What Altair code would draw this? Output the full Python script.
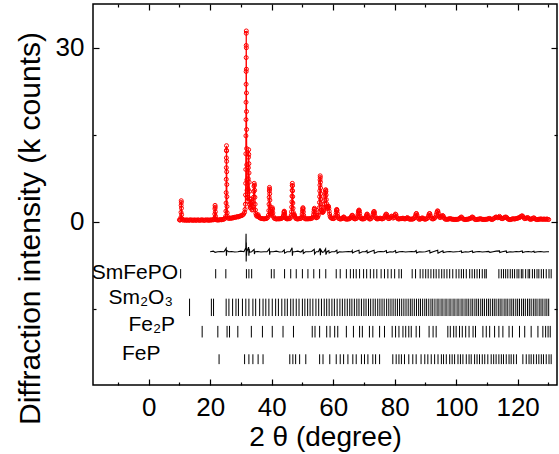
import altair as alt
import pandas as pd

# ---------------- data ----------------
# observed pattern (2theta in degree, intensity in k counts)
obs_points = [
    (10.0,0.3),(10.2,0.25),(10.4,0.35),(10.47,0.7),(10.52,1.6),(10.56,2.8),(10.6,3.6),(10.63,3.3),(10.67,2.3),(10.72,1.2),
    (10.8,0.5),(11.0,0.3),(11.3,0.25),(11.6,0.3),(12.0,0.2),(12.3,0.3),(12.6,0.25),(13.0,0.2),(13.3,0.3),(13.6,0.25),
    (14.0,0.3),(14.3,0.2),(14.6,0.25),(15.0,0.3),(15.3,0.2),(15.6,0.25),(16.0,0.3),(16.3,0.25),(16.6,0.2),(17.0,0.3),
    (17.3,0.25),(17.6,0.3),(18.0,0.2),(18.3,0.25),(18.6,0.3),(19.0,0.25),(19.3,0.3),(19.6,0.2),(20.0,0.3),(20.3,0.25),
    (20.6,0.3),(21.0,0.3),(21.3,0.35),(21.47,0.6),(21.52,1.3),(21.56,2.2),(21.6,2.8),(21.64,2.5),(21.68,1.7),(21.73,0.9),
    (21.8,0.45),(22.0,0.3),(22.3,0.3),(22.6,0.25),(23.0,0.3),(23.3,0.35),(23.6,0.3),(24.0,0.35),(24.3,0.4),(24.6,0.45),
    (24.9,0.6),(25.05,0.9),(25.12,1.8),(25.17,3.2),(25.21,5.0),(25.24,7.3),(25.26,9.3),(25.28,11.0),(25.3,12.3),(25.32,13.1),
    (25.34,12.2),(25.36,10.4),(25.38,8.6),(25.41,6.4),(25.44,4.3),(25.48,2.6),(25.53,1.5),(25.6,0.9),(25.8,0.6),(26.1,0.55),
    (26.4,0.6),(26.7,0.55),(27.0,0.65),(27.3,0.6),(27.6,0.7),(27.9,0.75),(28.2,0.7),(28.5,0.8),(28.8,0.85),(29.1,0.8),
    (29.4,0.9),(29.7,0.95),(30.0,1.0),(30.3,1.05),(30.6,1.15),(30.9,1.3),(31.2,1.6),(31.35,2.1),(31.45,3.0),(31.52,4.6),
    (31.56,6.6),(31.59,9.0),(31.61,11.7),(31.63,14.8),(31.65,17.6),(31.67,20.6),(31.69,23.7),(31.7,25.9),(31.71,28.3),(31.725,30.4),
    (31.74,32.5),(31.75,32.9),(31.765,30.0),(31.78,26.3),(31.8,22.2),(31.82,19.0),(31.84,15.9),(31.87,12.6),(31.9,9.8),(31.94,7.2),
    (31.98,5.4),(32.04,4.2),(32.12,3.6),(32.2,3.5),(32.28,4.2),(32.35,5.6),(32.4,7.4),(32.44,9.3),(32.48,11.1),(32.52,12.4),
    (32.56,11.6),(32.6,10.0),(32.64,8.4),(32.69,6.8),(32.75,5.2),(32.82,3.9),(32.9,2.9),(33.0,2.4),(33.1,2.6),(33.2,3.2),
    (33.28,3.9),(33.36,3.4),(33.45,2.6),(33.6,2.0),(33.75,2.1),(33.9,2.6),(34.0,3.3),(34.1,4.2),(34.18,5.2),(34.26,6.1),
    (34.33,6.6),(34.4,6.3),(34.47,5.4),(34.55,4.2),(34.63,3.0),(34.72,2.0),(34.85,1.4),(35.0,1.1),(35.2,0.9),(35.45,1.0),
    (35.6,1.2),(35.75,0.9),(36.0,0.7),(36.3,0.6),(36.6,0.55),(36.9,0.5),(37.2,0.5),(37.5,0.45),(37.8,0.5),(38.1,0.5),
    (38.4,0.55),(38.7,0.7),(38.95,1.1),(39.08,1.9),(39.15,3.0),(39.2,4.2),(39.25,5.3),(39.29,5.9),(39.33,5.6),(39.37,4.8),
    (39.42,3.7),(39.47,2.6),(39.53,1.8),(39.62,1.3),(39.75,1.1),(39.9,1.3),(40.05,1.7),(40.15,2.2),(40.22,2.4),(40.3,2.1),
    (40.4,1.5),(40.55,0.9),(40.8,0.6),(41.1,0.5),(41.4,0.45),(41.7,0.45),(42.0,0.5),(42.3,0.45),(42.6,0.5),(42.9,0.5),
    (43.2,0.55),(43.5,0.65),(43.75,0.9),(43.9,1.2),(44.0,1.6),(44.08,1.8),(44.15,1.7),(44.25,1.3),(44.37,0.9),(44.55,0.6),
    (44.8,0.5),(45.1,0.45),(45.4,0.5),(45.7,0.5),(46.0,0.55),(46.2,0.75),(46.35,1.1),(46.45,1.7),(46.52,2.5),(46.57,3.4),
    (46.61,4.4),(46.65,5.4),(46.69,6.2),(46.72,6.6),(46.76,6.2),(46.8,5.3),(46.84,4.3),(46.89,3.2),(46.95,2.3),(47.02,1.6),
    (47.12,1.2),(47.25,1.1),(47.4,1.2),(47.55,0.9),(47.75,0.6),(48.0,0.5),(48.3,0.45),(48.6,0.45),(48.9,0.5),(49.2,0.5),
    (49.5,0.55),(49.75,0.8),(49.92,1.3),(50.02,1.8),(50.1,2.2),(50.17,2.4),(50.24,2.2),(50.32,1.7),(50.42,1.1),(50.55,0.7),
    (50.8,0.5),(51.1,0.45),(51.4,0.5),(51.7,0.45),(52.0,0.5),(52.3,0.5),(52.6,0.5),(52.9,0.55),(53.2,0.6),(53.45,0.8),
    (53.62,1.2),(53.74,1.7),(53.83,2.1),(53.9,2.3),(53.97,2.1),(54.06,1.6),(54.17,1.1),(54.3,0.8),(54.5,0.65),(54.75,0.7),
    (55.0,0.8),(55.2,1.1),(55.35,1.6),(55.47,2.4),(55.55,3.3),(55.61,4.3),(55.66,5.3),(55.7,6.3),(55.74,7.2),(55.78,7.9),
    (55.82,7.6),(55.86,6.8),(55.9,5.8),(55.94,4.8),(55.99,3.9),(56.05,3.1),(56.12,2.5),(56.22,2.0),(56.35,1.7),(56.5,1.6),
    (56.65,1.6),(56.8,1.7),(56.95,2.0),(57.1,2.4),(57.22,3.0),(57.32,3.7),(57.4,4.4),(57.47,5.0),(57.53,5.4),(57.59,5.5),
    (57.65,5.2),(57.71,4.6),(57.78,3.8),(57.86,3.1),(57.95,2.6),(58.05,2.3),(58.15,2.3),(58.27,2.5),(58.38,2.7),(58.48,2.6),
    (58.6,2.3),(58.72,1.8),(58.85,1.3),(59.0,0.9),(59.2,0.7),(59.45,0.6),(59.7,0.55),(60.0,0.5),(60.3,0.55),(60.6,0.7),
    (60.85,1.1),(61.0,1.6),(61.1,2.0),(61.18,2.1),(61.27,1.9),(61.38,1.4),(61.52,0.9),(61.7,0.6),(61.95,0.5),(62.2,0.45),
    (62.5,0.45),(62.8,0.5),(63.1,0.6),(63.3,0.75),(63.45,0.8),(63.6,0.7),(63.8,0.5),(64.1,0.45),(64.4,0.4),(64.7,0.45),
    (65.0,0.45),(65.3,0.5),(65.6,0.6),(65.85,0.8),(66.05,1.0),(66.2,1.1),(66.35,1.0),(66.55,0.7),(66.8,0.5),(67.1,0.45),
    (67.4,0.5),(67.7,0.6),(67.95,0.9),(68.1,1.3),(68.22,1.7),(68.32,1.9),(68.42,2.0),(68.52,1.8),(68.63,1.4),(68.77,0.9),
    (68.95,0.6),(69.2,0.5),(69.5,0.45),(69.8,0.45),(70.1,0.5),(70.4,0.6),(70.65,0.8),(70.85,1.1),(71.0,1.3),(71.12,1.25),
    (71.3,0.9),(71.5,0.6),(71.8,0.45),(72.1,0.45),(72.4,0.55),(72.7,0.8),(72.95,1.2),(73.1,1.5),(73.22,1.7),(73.33,1.75),
    (73.45,1.5),(73.6,1.0),(73.8,0.65),(74.1,0.5),(74.4,0.45),(74.7,0.5),(75.0,0.55),(75.3,0.6),(75.6,0.5),(75.9,0.45),
    (76.2,0.5),(76.5,0.6),(76.8,0.85),(77.05,1.15),(77.25,1.3),(77.42,1.2),(77.6,0.85),(77.85,0.55),(78.15,0.5),(78.45,0.6),
    (78.75,0.8),(79.0,0.95),(79.25,0.85),(79.5,0.6),(79.8,0.7),(80.05,1.0),(80.25,1.3),(80.42,1.2),(80.62,0.8),(80.9,0.55),
    (81.2,0.45),(81.5,0.45),(81.8,0.5),(82.1,0.5),(82.4,0.55),(82.7,0.6),(83.0,0.5),(83.3,0.45),(83.6,0.5),(83.9,0.6),
    (84.15,0.7),(84.4,0.55),(84.7,0.45),(85.0,0.4),(85.3,0.45),(85.6,0.4),(85.9,0.45),(86.2,0.5),(86.5,0.7),(86.75,1.0),
    (86.95,1.35),(87.1,1.4),(87.28,1.1),(87.5,0.7),(87.8,0.45),(88.1,0.4),(88.4,0.45),(88.7,0.55),(89.0,0.65),(89.3,0.55),
    (89.6,0.45),(89.9,0.4),(90.2,0.45),(90.5,0.5),(90.8,0.7),(91.05,1.05),(91.25,1.35),(91.42,1.4),(91.6,1.05),(91.8,0.7),
    (92.1,0.5),(92.4,0.45),(92.7,0.5),(93.0,0.6),(93.3,0.8),(93.55,1.2),(93.75,1.6),(93.92,1.85),(94.07,1.8),(94.22,1.45),
    (94.4,1.0),(94.6,0.75),(94.85,0.7),(95.1,0.8),(95.35,0.95),(95.6,1.05),(95.8,0.95),(96.05,0.65),(96.35,0.45),(96.65,0.4),
    (96.95,0.4),(97.25,0.4),(97.55,0.45),(97.85,0.5),(98.15,0.5),(98.45,0.45),(98.75,0.4),(99.05,0.4),(99.35,0.35),(99.65,0.4),
    (99.95,0.35),(100.25,0.4),(100.55,0.4),(100.85,0.45),(101.15,0.55),(101.45,0.7),(101.7,0.8),(101.95,0.65),(102.25,0.45),(102.55,0.4),
    (102.85,0.35),(103.15,0.35),(103.45,0.4),(103.75,0.4),(104.05,0.45),(104.35,0.5),(104.65,0.55),(104.95,0.65),(105.2,0.8),(105.45,0.75),
    (105.75,0.55),(106.05,0.4),(106.35,0.35),(106.65,0.35),(106.95,0.4),(107.25,0.4),(107.55,0.45),(107.85,0.5),(108.15,0.45),(108.45,0.4),
    (108.75,0.35),(109.05,0.4),(109.35,0.35),(109.65,0.4),(109.95,0.4),(110.25,0.45),(110.55,0.5),(110.85,0.55),(111.15,0.45),(111.45,0.4),
    (111.75,0.35),(112.05,0.45),(112.35,0.55),(112.65,0.7),(112.95,0.8),(113.25,0.75),(113.55,0.65),(113.85,0.75),(114.1,0.9),(114.35,0.75),
    (114.65,0.55),(114.95,0.5),(115.25,0.55),(115.55,0.65),(115.85,0.75),(116.15,0.8),(116.45,0.7),(116.75,0.5),(117.05,0.4),(117.35,0.35),
    (117.65,0.35),(117.95,0.4),(118.25,0.45),(118.55,0.5),(118.85,0.45),(119.15,0.45),(119.45,0.5),(119.75,0.55),(120.05,0.6),(120.35,0.65),
    (120.65,0.7),(120.95,0.85),(121.25,0.95),(121.5,1.0),(121.75,0.85),(122.05,0.6),(122.35,0.5),(122.65,0.55),(122.95,0.65),(123.25,0.7),
    (123.55,0.6),(123.85,0.45),(124.15,0.4),(124.45,0.4),(124.75,0.5),(125.05,0.6),(125.3,0.65),(125.6,0.5),(125.9,0.4),(126.2,0.35),
    (126.5,0.35),(126.8,0.4),(127.1,0.4),(127.4,0.45),(127.7,0.45),(128.0,0.4),(128.3,0.4),(128.6,0.45),(128.9,0.4),(129.2,0.4),
    (129.5,0.45),(129.8,0.4),(130.1,0.35),
]

# difference curve (obs - calc), drawn offset below zero
diff_points = [
    (20.0,-5.2),(21.0,-5.1),(21.6,-5.3),(22.5,-5.2),(23.5,-5.15),(24.5,-5.2),(25.2,-4.6),(25.3,-5.9),(25.4,-5.0),(26.0,-5.2),
    (27.0,-5.15),(28.0,-5.25),(29.0,-5.2),(30.0,-5.1),(31.0,-5.2),(31.6,-4.5),(31.68,-2.1),(31.72,-6.9),(31.76,-3.6),(31.82,-5.9),
    (31.9,-5.2),(32.5,-4.4),(32.6,-5.9),(32.7,-4.7),(32.8,-5.3),(33.5,-5.2),(34.3,-4.8),(34.4,-5.6),(34.6,-5.2),(35.5,-5.15),
    (36.5,-5.25),(37.5,-5.2),(38.5,-5.2),(39.25,-4.7),(39.35,-5.7),(39.5,-5.2),(40.5,-5.2),(41.5,-5.1),(42.5,-5.25),(43.5,-5.2),
    (44.1,-4.9),(44.2,-5.45),(45.0,-5.2),(46.0,-5.2),(46.65,-4.5),(46.75,-5.9),(46.9,-5.2),(47.5,-5.2),(48.5,-5.1),(49.5,-5.25),
    (50.2,-4.9),(50.3,-5.5),(51.0,-5.2),(52.0,-5.2),(53.0,-5.15),(53.85,-4.8),(53.95,-5.6),(54.5,-5.2),(55.2,-5.2),(55.75,-4.6),
    (55.85,-5.8),(56.0,-4.9),(56.5,-5.3),(57.0,-5.2),(57.55,-4.7),(57.65,-5.7),(58.0,-5.2),(58.6,-5.0),(58.7,-5.4),(59.5,-5.2),
    (60.5,-5.2),(61.2,-4.95),(61.3,-5.45),(62.0,-5.2),(63.0,-5.25),(64.0,-5.2),(65.0,-5.15),(66.0,-5.2),(66.2,-5.0),(66.3,-5.4),
    (67.0,-5.2),(68.4,-4.95),(68.5,-5.45),(69.5,-5.2),(70.5,-5.2),(71.0,-5.0),(71.1,-5.4),(72.0,-5.2),(73.3,-4.95),(73.4,-5.45),
    (74.5,-5.2),(75.5,-5.15),(76.5,-5.2),(77.3,-5.0),(77.4,-5.4),(78.5,-5.2),(79.5,-5.25),(80.3,-5.0),(80.4,-5.4),(81.5,-5.2),
    (82.5,-5.15),(83.5,-5.25),(84.5,-5.2),(85.5,-5.15),(86.5,-5.2),(87.0,-5.0),(87.1,-5.4),(88.0,-5.2),(89.0,-5.25),(90.0,-5.2),
    (91.4,-5.0),(91.5,-5.4),(92.5,-5.2),(94.0,-4.95),(94.1,-5.45),(95.0,-5.2),(95.7,-5.05),(95.8,-5.35),(97.0,-5.2),(98.0,-5.15),
    (99.0,-5.25),(100.0,-5.2),(101.0,-5.15),(101.7,-5.05),(101.8,-5.35),(103.0,-5.2),(104.0,-5.25),(105.3,-5.05),(105.4,-5.35),(106.5,-5.2),
    (107.5,-5.15),(108.5,-5.25),(109.5,-5.2),(110.5,-5.15),(111.0,-5.3),(112.0,-5.2),(113.0,-5.1),(114.1,-5.05),(114.2,-5.35),(115.0,-5.2),
    (116.3,-5.05),(116.4,-5.35),(117.5,-5.2),(118.5,-5.25),(119.5,-5.15),(120.5,-5.2),(121.5,-5.05),(121.6,-5.35),(122.5,-5.2),(123.5,-5.15),
    (124.5,-5.25),(125.3,-5.1),(125.4,-5.3),(126.5,-5.2),(127.5,-5.15),(128.5,-5.25),(129.5,-5.2),(130.2,-5.2),
]

# Bragg reflection positions (2theta, degree)
smfepo_ticks = [10.4,21.8,25.1,31.8,32.6,33.5,39.9,40.8,44.2,46.2,48.0,50.0,51.8,53.7,55.6,57.6,61.0,62.3,64.3,65.6,
                66.6,67.5,68.6,69.9,70.9,72.1,73.2,74.2,75.6,76.7,77.8,78.9,80.0,81.4,82.2,85.7,86.8,88.3,89.2,90.1,
                90.9,91.8,92.7,93.5,94.4,95.3,96.1,97.0,97.9,98.9,100.0,100.9,101.7,102.4,103.3,104.4,105.2,106.0,106.8,107.6,
                108.5,109.3,109.8,113.9,114.7,115.4,116.1,116.8,117.6,118.3,119.0,119.8,120.4,121.2,121.7,122.6,123.4,123.9,124.8,125.5,
                126.3,126.9,127.7,128.4,129.3,130.2,130.9]
sm2o3_ticks = [13.3,20.4,21.1,25.2,26.1,27.3,28.4,29.2,30.5,31.6,32.6,33.9,34.8,36.1,37.2,38.1,39.1,40.2,41.3,42.2,
               43.3,44.3,45.1,46.2,47.0,48.0,48.9,50.0,50.8,51.7,52.5,53.4,54.4,55.3,56.2,57.1,57.9,58.7,59.6,60.4,
               61.3,62.2,63.0,63.8,64.6,65.4,66.1,66.9,67.7,68.4,69.2,70.0,70.7,71.5,72.2,73.0,73.7,74.5,75.2,75.9,
               76.6,77.4,78.1,78.8,79.5,80.2,80.9,81.6,82.3,83.0,83.7,84.4,85.1,85.7,86.4,87.1,87.8,88.4,89.1,89.8,
               90.4,91.1,91.8,92.4,93.1,93.8,94.4,95.1,95.7,96.4,97.0,97.7,98.3,99.0,99.6,100.3,100.9,101.6,102.2,102.9,
               103.5,104.1,104.8,105.4,106.1,106.7,107.3,108.0,108.6,109.2,109.9,110.5,111.1,111.8,112.4,113.0,113.7,114.3,114.9,115.6,
               116.2,116.8,117.5,118.1,118.7,119.4,120.0,120.6,121.3,121.9,122.5,123.2,123.8,124.4,125.1,125.7,126.3,127.0,127.6,128.2,
               128.9,129.5,130.1]
fe2p_ticks = [17.4,22.5,25.5,26.3,29.0,33.4,37.0,40.2,43.7,47.1,53.2,54.1,55.6,57.9,59.0,60.5,61.5,64.3,66.6,68.6,
              69.5,71.8,72.9,75.1,76.7,79.2,80.3,81.4,82.7,83.6,84.6,85.4,87.0,88.1,91.2,92.5,93.5,97.3,98.1,99.2,
              100.0,101.1,102.0,103.1,104.2,105.5,106.3,108.7,109.8,110.9,112.5,113.9,115.2,117.2,118.3,120.6,122.3,124.4,126.6,128.2,
              129.1,129.9,130.6]
fep_ticks = [22.9,31.2,32.6,33.9,35.6,37.2,45.9,46.9,47.8,49.1,51.1,55.6,56.7,58.9,61.0,62.3,63.4,64.8,66.4,67.5,
             69.2,70.2,71.3,72.9,73.8,75.1,79.4,80.5,81.4,82.2,83.2,84.6,85.9,87.0,88.6,89.8,90.8,91.9,93.0,94.1,
             95.2,95.9,96.8,97.9,98.7,99.5,100.6,101.4,102.2,103.3,104.2,104.9,106.0,106.8,107.6,108.5,109.3,110.3,111.4,112.2,
             113.0,113.9,114.7,115.4,116.3,117.2,117.9,118.7,119.6,121.7,122.8,123.7,124.4,125.2,126.1,126.9,127.7,128.4,129.3,130.2,
             130.9]

phase_names = ["SmFePO", "Sm₂O₃", "Fe₂P", "FeP"]
phase_ticks = [smfepo_ticks, sm2o3_ticks, fe2p_ticks, fep_ticks]
phase_tick_top = [-8.2, -13.3, -18.0, -22.9]
phase_tick_bottom = [-9.8, -16.3, -20.0, -24.6]
label_x = [-4.5, -2.6, 1.0, -2.4]
label_y = [-8.85, -13.1, -17.9, -22.8]

x_major = [0, 20, 40, 60, 80, 100, 120]
x_minor = [-10, 10, 30, 50, 70, 90, 110, 130]
y_major = [0, 30]
y_minor = [-15, 15]
X_DOMAIN = [-18.1, 132.8]
Y_DOMAIN = [-28.2, 37.55]

FONT = "Liberation Sans"

# ---------------- tables ----------------
obs_df = pd.DataFrame(obs_points, columns=["tt", "inten"])
diff_df = pd.DataFrame(diff_points, columns=["tt", "inten"])
rows = []
for name, ticks, top, bot in zip(phase_names, phase_ticks, phase_tick_top, phase_tick_bottom):
    for t in ticks:
        rows.append({"phase": name, "tt": t, "y1": top, "y2": bot})
bragg_df = pd.DataFrame(rows)
label_df = pd.DataFrame({"name": phase_names, "x": label_x, "y": label_y})

xs = alt.Scale(domain=X_DOMAIN, nice=False, zero=False)
ys = alt.Scale(domain=Y_DOMAIN, nice=False, zero=False)

common_axis = dict(grid=False, domain=False, tickColor="black", labelFont=FONT,
                   labelColor="black", titleFont=FONT, titleColor="black",
                   titleFontWeight="normal", labelFlush=False, labelOverlap=False)

ax_x_bottom = alt.Axis(orient="bottom", values=x_major, tickSize=6, tickWidth=1.2, offset=-6,
                       labelFontSize=26, labelPadding=9, title="2 θ (degree)",
                       titleFontSize=28, titleY=44, **common_axis)
ax_x_bottom_minor = alt.Axis(orient="bottom", values=x_minor, tickSize=3, tickWidth=1.2, offset=-3,
                             labels=False, title=None, **common_axis)
ax_x_top = alt.Axis(orient="top", values=x_major, tickSize=6, tickWidth=1.2, offset=-6,
                    labels=False, title=None, **common_axis)
ax_x_top_minor = alt.Axis(orient="top", values=x_minor, tickSize=3, tickWidth=1.2, offset=-3,
                          labels=False, title=None, **common_axis)

ax_y_left = alt.Axis(orient="left", values=y_major, tickSize=6, tickWidth=1.2, offset=-6,
                     labelFontSize=26, labelPadding=9, title="Diffraction intensity (k counts)",
                     titleFontSize=30, titlePadding=10, titleY=224, **common_axis)
ax_y_left_minor = alt.Axis(orient="left", values=y_minor, tickSize=3, tickWidth=1.2, offset=-3,
                           labels=False, title=None, **common_axis)
ax_y_right = alt.Axis(orient="right", values=y_major, tickSize=6, tickWidth=1.2, offset=-6,
                      labels=False, title=None, **common_axis)
ax_y_right_minor = alt.Axis(orient="right", values=y_minor, tickSize=3, tickWidth=1.2, offset=-3,
                            labels=False, title=None, **common_axis)

obs_layer = alt.Chart(obs_df).mark_point(
    shape="circle", filled=False, color="#ff0000", size=16, strokeWidth=1, opacity=1
).encode(
    x=alt.X("tt:Q", scale=xs, axis=ax_x_bottom),
    y=alt.Y("inten:Q", scale=ys, axis=ax_y_left),
)

calc_layer = alt.Chart(obs_df).mark_line(color="#ff0000", strokeWidth=1.2).encode(
    x=alt.X("tt:Q", scale=xs, axis=ax_x_bottom_minor),
    y=alt.Y("inten:Q", scale=ys, axis=ax_y_left_minor),
    order="tt:Q",
)

diff_layer = alt.Chart(diff_df).mark_line(color="black", strokeWidth=1.1).encode(
    x=alt.X("tt:Q", scale=xs, axis=ax_x_top),
    y=alt.Y("inten:Q", scale=ys, axis=ax_y_right),
    order="tt:Q",
)

bragg_layer = alt.Chart(bragg_df).mark_rule(color="black", strokeWidth=1).encode(
    x=alt.X("tt:Q", scale=xs, axis=ax_x_top_minor),
    y=alt.Y("y1:Q", scale=ys, axis=ax_y_right_minor),
    y2="y2:Q",
)

label_layer = alt.Chart(label_df).mark_text(
    font=FONT, fontSize=21, align="center", baseline="middle", color="black"
).encode(
    x=alt.X("x:Q", scale=xs, axis=None),
    y=alt.Y("y:Q", scale=ys, axis=None),
    text="name:N",
)

chart = alt.layer(
    obs_layer, calc_layer, diff_layer, bragg_layer, label_layer
).resolve_axis(
    x="independent", y="independent"
).properties(
    width=464, height=381,
    padding={"left": 93, "top": 4, "right": 2, "bottom": 69},
    autosize=alt.AutoSizeParams(type="none"),
).configure_view(
    stroke="black", strokeWidth=1.5
)

chart.save("out.html", embed_options={"renderer": "svg", "actions": False})
